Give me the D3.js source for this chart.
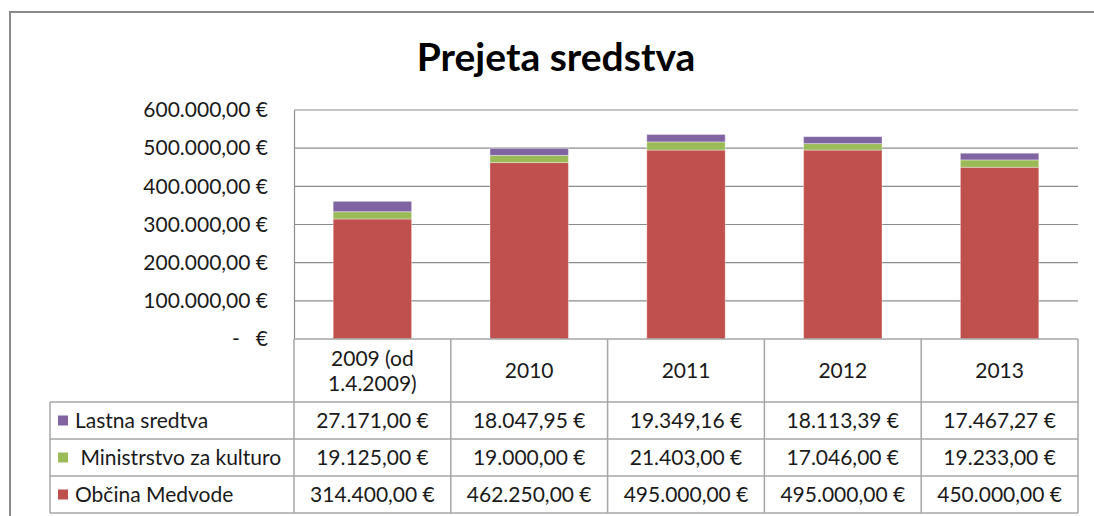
<!DOCTYPE html>
<html>
<head>
<meta charset="utf-8">
<script src="https://cdn.jsdelivr.net/npm/d3@7"></script>
<style>
  body { margin: 0; background: #fff; }
  text { font-family: Lato, "Liberation Sans", sans-serif; fill: #1a1a1a; }
</style>
</head>
<body>
<div id="chart"></div>
<script>
let w = 1094, h = 516,
	margins = {left: 294, right: 1078, top: 110, bottom: 339},
	fontSize = 21,
	svg = d3.select("#chart").append("svg")
		.attr("width", w)
		.attr("height", h)

// data
let categories = ["2009 (od 1.4.2009)", "2010", "2011", "2012", "2013"]
let headerLines = [["2009 (od", "1.4.2009)"], ["2010"], ["2011"], ["2012"], ["2013"]]
let seriesNames = ["Lastna sredtva", " Ministrstvo za kulturo", "Občina Medvode"]
let obcina = [314400, 462250, 495000, 495000, 450000]
let ministrstvo = [19125, 19000, 21403, 17046, 19233]
let lastna = [27171, 18047.95, 19349.16, 18113.39, 17467.27]
let yTicks = [0, 100000, 200000, 300000, 400000, 500000, 600000]
let colors = {obcina: "#C0504D", ministrstvo: "#9BBB59", lastna: "#8064A2"}

let locale = d3.formatLocale({decimal: ",", thousands: ".", grouping: [3], currency: ["", " €"]})
let fmt = locale.format(",.2f")
let euro = v => v === 0 ? "-   €" : fmt(v) + " €"

let rows = categories.map((c, i) => ({cat: c, obcina: obcina[i], ministrstvo: ministrstvo[i], lastna: lastna[i]}))
let keys = ["obcina", "ministrstvo", "lastna"]
let stacked = d3.stack().keys(keys)(rows)

// outer chart frame
svg.append("rect")
	.attr("x", 10).attr("y", 12)
	.attr("width", 1100).attr("height", 520)
	.attr("fill", "none")
	.attr("stroke", "#8a8a8a")
	.attr("stroke-width", 2)

// title
svg.append("text")
	.attr("x", 556).attr("y", 71)
	.attr("text-anchor", "middle")
	.attr("font-size", 39)
	.attr("font-weight", "bold")
	.style("fill", "#000")
	.text("Prejeta sredstva")

// scales
let x = d3.scaleBand()
	.domain(categories)
	.range([margins.left, margins.right])
	.paddingInner(0.5)
	.paddingOuter(0.25)

let y = d3.scaleLinear()
	.domain([0, 600000])
	.range([margins.bottom, margins.top])

// gridlines
svg.append("g")
	.selectAll("line")
	.data(yTicks.slice(1))
	.enter()
	.append("line")
	.attr("x1", margins.left).attr("x2", margins.right)
	.attr("y1", d => y(d)).attr("y2", d => y(d))
	.attr("stroke", "#8c8c8c")
	.attr("stroke-width", 1.2)

// y axis
let yAxis = d3.axisLeft(y).tickValues(yTicks).tickSize(0).tickPadding(26).tickFormat(euro)
let gy = svg.append("g")
	.attr("transform", "translate(" + margins.left + ",0)")
	.call(yAxis)
gy.select(".domain").attr("stroke", "#8c8c8c").attr("stroke-width", 1.2)
gy.selectAll("text")
	.attr("font-size", fontSize)
	.attr("font-family", "Lato, 'Liberation Sans', sans-serif")
	.style("fill", "#1a1a1a")
	.style("white-space", "pre")

// bars
svg.append("g")
	.selectAll("g")
	.data(stacked)
	.enter()
	.append("g")
	.attr("fill", d => colors[d.key])
	.selectAll("rect")
	.data(d => d)
	.enter()
	.append("rect")
	.attr("x", d => x(d.data.cat))
	.attr("y", d => y(d[1]))
	.attr("width", x.bandwidth())
	.attr("height", d => y(d[0]) - y(d[1]))
	.attr("stroke", "rgba(255,255,255,0.35)")
	.attr("stroke-width", 1)

// data table
let tableLeft = 50, headerBottom = 402, rowH = 37
let tableRows = [
	{name: seriesNames[0], key: "lastna", values: lastna},
	{name: seriesNames[1], key: "ministrstvo", values: ministrstvo},
	{name: seriesNames[2], key: "obcina", values: obcina}
]
let tbl = svg.append("g")
let lineColor = "#a6a6a6"
let colEdges = categories.map(c => x(c) - x.step() * x.paddingInner() / 2)
	.map((v, i) => i === 0 ? margins.left : v)
colEdges.push(margins.right)

// horizontal lines
tbl.append("line")
	.attr("x1", margins.left).attr("x2", margins.right)
	.attr("y1", margins.bottom).attr("y2", margins.bottom)
	.attr("stroke", lineColor).attr("stroke-width", 1.5)
for (let r = 0; r <= tableRows.length; r++) {
	let yy = headerBottom + r * rowH
	tbl.append("line")
		.attr("x1", tableLeft).attr("x2", margins.right)
		.attr("y1", yy).attr("y2", yy)
		.attr("stroke", lineColor).attr("stroke-width", 1.5)
}
// vertical lines
colEdges.forEach(cx => {
	tbl.append("line")
		.attr("x1", cx).attr("x2", cx)
		.attr("y1", margins.bottom).attr("y2", headerBottom + tableRows.length * rowH)
		.attr("stroke", lineColor).attr("stroke-width", 1.5)
})
tbl.append("line")
	.attr("x1", tableLeft).attr("x2", tableLeft)
	.attr("y1", headerBottom).attr("y2", headerBottom + tableRows.length * rowH)
	.attr("stroke", lineColor).attr("stroke-width", 1.5)

// header labels
categories.forEach((c, i) => {
	let lines = headerLines[i]
	let cx = x(c) + x.bandwidth() / 2
	let y0 = 371 - (lines.length - 1) * 12.5
	lines.forEach((l, j) => {
		tbl.append("text")
			.attr("x", cx).attr("y", y0 + j * 25)
			.attr("dy", "0.35em")
			.attr("text-anchor", "middle")
			.attr("font-size", fontSize)
			.text(l)
	})
})

// rows
tableRows.forEach((row, r) => {
	let cy = headerBottom + r * rowH + rowH / 2
	tbl.append("rect")
		.attr("x", 58).attr("y", cy - 5)
		.attr("width", 10).attr("height", 10)
		.attr("fill", colors[row.key])
	tbl.append("text")
		.attr("x", 75).attr("y", cy)
		.attr("dy", "0.35em")
		.attr("font-size", fontSize)
		.style("white-space", "pre")
		.text(row.name)
	row.values.forEach((v, i) => {
		tbl.append("text")
			.attr("x", x(categories[i]) + x.bandwidth() / 2)
			.attr("y", cy)
			.attr("dy", "0.35em")
			.attr("text-anchor", "middle")
			.attr("font-size", fontSize)
			.text(euro(v))
	})
})
</script>
</body>
</html>
